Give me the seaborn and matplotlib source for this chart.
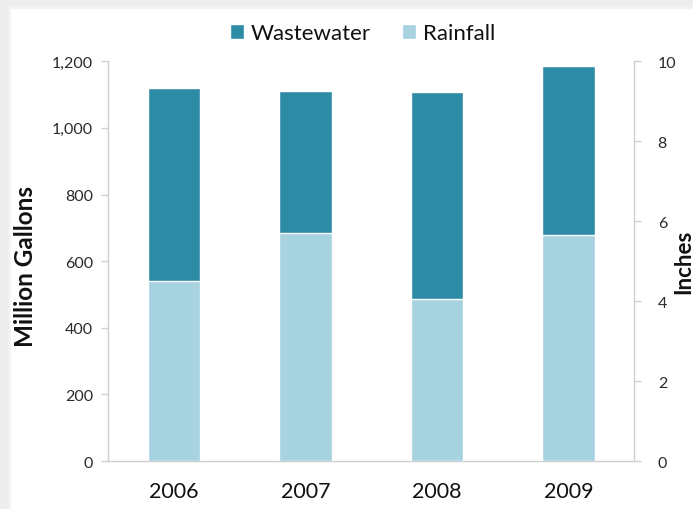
import matplotlib
matplotlib.use("Agg")
import matplotlib.pyplot as plt
from matplotlib.patches import Rectangle, Patch
import seaborn as sns
import pandas as pd

# Annual volumes (million gallons)
years = ["2006", "2007", "2008", "2009"]
rainfall = [540, 684, 486, 678]
wastewater = [579, 426, 621, 507]

wastewater_color = "#2E8BA6"
rainfall_color = "#A7D2E0"

sns.set_theme(style="white")
plt.rcParams["font.family"] = ["Lato", "DejaVu Sans"]

df = pd.DataFrame({"year": years, "rainfall": rainfall, "wastewater": wastewater})
df["total"] = df["rainfall"] + df["wastewater"]

fig = plt.figure(figsize=(6.93, 5.10), dpi=100)
fig.patch.set_facecolor("#ededed")
# white card with a soft shadow on its top/left edges
for i, a in enumerate([0.35, 0.55, 0.8]):
    fig.patches.append(Rectangle((0.0145 - 0.002 * (2 - i), 0), 1, 0.981 + 0.003 * (2 - i),
                                 transform=fig.transFigure, facecolor="#f6f6f6",
                                 alpha=a, edgecolor="none", zorder=-10))
fig.patches.append(Rectangle((0.0159, 0), 1, 0.9804, transform=fig.transFigure,
                             facecolor="white", edgecolor="none", zorder=-9))

ax = fig.add_axes([0.156, 0.094, 0.759, 0.784])
ax.set_facecolor("none")

sns.barplot(data=df, x="year", y="total", color=wastewater_color, width=0.4,
            saturation=1, ax=ax, zorder=2)
sns.barplot(data=df, x="year", y="rainfall", color=rainfall_color, width=0.4,
            saturation=1, ax=ax, zorder=3)

ax.set_ylim(0, 1200)
ax.set_yticks(range(0, 1201, 200))
ax.set_yticklabels([f"{v:,}" for v in range(0, 1201, 200)], fontsize=11.5, color="#2a2a2a")
ax.set_xlim(-0.5, 3.5)
ax.set_xticks(range(4))
ax.set_xticklabels(years, fontsize=15.5, color="#111111")
ax.set_xticks([0.5, 1.5, 2.5], minor=True)
ax.tick_params(axis="x", which="major", length=0, pad=14)
ax.tick_params(axis="x", which="minor", length=5, color="#d0d0d0", width=1, direction="out")
ax.tick_params(axis="y", length=5, color="#d0d0d0", width=1, direction="out", pad=6)
ax.set_xlabel("")
ax.set_ylabel("Million Gallons", fontsize=17.5, fontweight="bold", color="#111111")
ax.yaxis.set_label_coords(-0.135, 0.49)

for side in ["top", "right"]:
    ax.spines[side].set_visible(False)
for side in ["left", "bottom"]:
    ax.spines[side].set_color("#d0d0d0")
    ax.spines[side].set_linewidth(1)

ax2 = ax.twinx()
ax2.set_ylim(0, 10)
ax2.set_yticks(range(0, 11, 2))
ax2.tick_params(axis="y", length=5, color="#d0d0d0", width=1, direction="out", pad=12,
                labelsize=11.5, labelcolor="#2a2a2a")
ax2.set_ylabel("Inches", fontsize=16, fontweight="bold", color="#111111", rotation=90)
ax2.yaxis.set_label_coords(1.074, 0.5)
for side in ["top", "left", "bottom"]:
    ax2.spines[side].set_visible(False)
ax2.spines["right"].set_color("#d0d0d0")
ax2.spines["right"].set_linewidth(1)

handles = [Patch(facecolor=wastewater_color, label="Wastewater"),
           Patch(facecolor=rainfall_color, label="Rainfall")]
fig.legend(handles=handles, loc="center", bbox_to_anchor=(0.523, 0.933), ncol=2,
           frameon=False, fontsize=16, handlelength=0.65, handleheight=0.65,
           handletextpad=0.3, columnspacing=1.4, labelcolor="#111111")

fig.savefig("out.png", dpi=100)
